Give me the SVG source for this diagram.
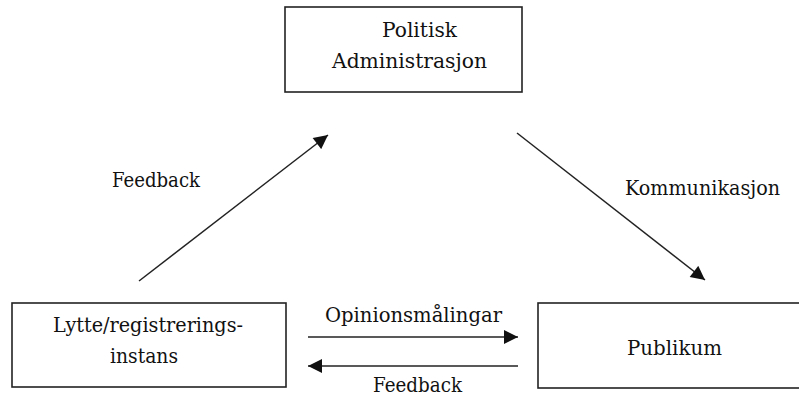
<svg xmlns="http://www.w3.org/2000/svg" width="799" height="396" viewBox="0 0 799 396">
<style>
.box{fill:#fff;stroke:#222;stroke-width:1.6}
.t{font-family:"DejaVu Serif","Liberation Serif",serif;font-size:19.5px;fill:#111}
.c{stroke:#222;stroke-width:1.5;fill:none}
</style>
<defs>
<marker id="ah" viewBox="0 0 10 10" refX="10" refY="5" markerWidth="15" markerHeight="14" markerUnits="userSpaceOnUse" orient="auto">
<path d="M0,0 L10,5 L0,10 z" fill="#111"/>
</marker>
</defs>
<rect width="799" height="396" fill="#fff"/>
<g id="politisk">
<rect class="box" x="285" y="7" width="237" height="85"/>
<text class="t" x="382" y="37" textLength="75" lengthAdjust="spacingAndGlyphs">Politisk</text>
<text class="t" x="332" y="68" textLength="155" lengthAdjust="spacingAndGlyphs">Administrasjon</text>
</g>
<g id="lytte">
<rect class="box" x="12" y="303" width="274" height="84"/>
<text class="t" x="53" y="332" textLength="190" lengthAdjust="spacingAndGlyphs">Lytte/registrerings-</text>
<text class="t" x="110" y="363" textLength="68" lengthAdjust="spacingAndGlyphs">instans</text>
</g>
<g id="publikum">
<rect class="box" x="538" y="303" width="280" height="85"/>
<text class="t" x="627" y="355" textLength="95" lengthAdjust="spacingAndGlyphs">Publikum</text>
</g>
<g id="connectors">
<line class="c" x1="139" y1="281" x2="328" y2="135" marker-end="url(#ah)"/>
<line class="c" x1="517" y1="133" x2="705" y2="280" marker-end="url(#ah)"/>
<line class="c" x1="308" y1="337" x2="518" y2="337" marker-end="url(#ah)"/>
<line class="c" x1="518" y1="366" x2="308" y2="366" marker-end="url(#ah)"/>
<text class="t" x="112" y="187" textLength="88" lengthAdjust="spacingAndGlyphs">Feedback</text>
<text class="t" x="625" y="195" textLength="155" lengthAdjust="spacingAndGlyphs">Kommunikasjon</text>
<text class="t" x="325" y="322" textLength="177" lengthAdjust="spacingAndGlyphs">Opinionsmålingar</text>
<text class="t" x="373" y="392" textLength="89" lengthAdjust="spacingAndGlyphs">Feedback</text>
</g>
</svg>
